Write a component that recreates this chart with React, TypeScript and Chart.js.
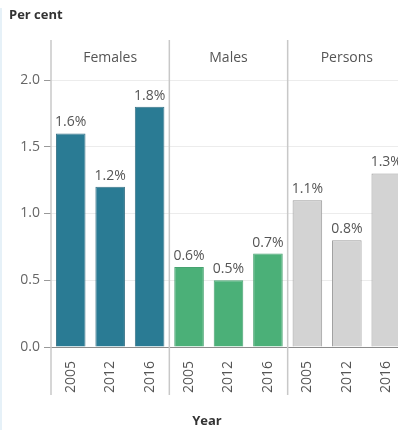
import React, { useEffect, useRef } from "react";
import { Chart, registerables } from "chart.js";

Chart.register(...registerables);

const groups = ["Females", "Males", "Persons"];
const years = ["2005", "2012", "2016"];
const females = [1.6, 1.2, 1.8];
const males = [0.6, 0.5, 0.7];
const persons = [1.1, 0.8, 1.3];
const yTicks = [0, 0.5, 1.0, 1.5, 2.0];

const groupColors = ["#2a7b94", "#4bb078", "#d3d3d3"];
const groupBorders = ["#3a7488", "#47a270", "#9a9a9a"];

const FONT = "'Open Sans', sans-serif";

export default function App() {
  const ref = useRef<HTMLCanvasElement>(null);

  useEffect(() => {
    if (!ref.current) return;
    const labels: string[] = [];
    const values: number[] = [];
    const bg: string[] = [];
    const bd: string[] = [];
    const series = [females, males, persons];
    series.forEach((s, gi) => {
      s.forEach((v, yi) => {
        labels.push(years[yi]);
        values.push(v);
        bg.push(groupColors[gi]);
        bd.push(groupBorders[gi]);
      });
    });

    const panelPlugin = {
      id: "panels",
      afterDraw(chart: any) {
        const ctx = chart.ctx;
        const area = chart.chartArea;
        const xs = chart.scales.x;
        const n = years.length;
        const bounds: number[] = [area.left];
        for (let g = 1; g < groups.length; g++) {
          const a = xs.getPixelForValue(g * n - 1);
          const b = xs.getPixelForValue(g * n);
          bounds.push((a + b) / 2);
        }
        bounds.push(area.right);
        ctx.save();
        // dividers
        ctx.strokeStyle = "#c8c8c8";
        ctx.lineWidth = 1.5;
        for (let i = 0; i < bounds.length - 1; i++) {
          ctx.beginPath();
          ctx.moveTo(bounds[i], 40);
          ctx.lineTo(bounds[i], 395);
          ctx.stroke();
        }
        // headers
        ctx.fillStyle = "#555";
        ctx.font = `14px ${FONT}`;
        ctx.textAlign = "center";
        ctx.textBaseline = "alphabetic";
        groups.forEach((g, i) => {
          ctx.fillText(g, (bounds[i] + bounds[i + 1]) / 2, 62);
        });
        // data labels
        const meta = chart.getDatasetMeta(0);
        ctx.font = `14px ${FONT}`;
        meta.data.forEach((el: any, i: number) => {
          ctx.fillText(values[i].toFixed(1) + "%", el.x, el.y - 7);
        });
        // titles
        ctx.fillStyle = "#333";
        ctx.font = `bold 13px ${FONT}`;
        ctx.textAlign = "left";
        ctx.textBaseline = "middle";
        ctx.fillText("Per cent", 9, 15);
        ctx.textAlign = "center";
        ctx.fillText("Year", 207, 421);
        ctx.restore();
      },
    };

    const chart = new Chart(ref.current, {
      type: "bar",
      data: {
        labels,
        datasets: [
          {
            data: values,
            backgroundColor: bg,
            borderColor: bd,
            borderWidth: 1,
            categoryPercentage: 1,
            barPercentage: 0.75,
          },
        ],
      },
      options: {
        animation: false,
        responsive: false,
        maintainAspectRatio: false,
        layout: { padding: { top: 80, right: 14, bottom: 0, left: 0 } },
        plugins: {
          legend: { display: false },
          tooltip: { enabled: false },
        },
        scales: {
          x: {
            type: "category",
            grid: { display: false },
            border: { display: false },
            ticks: {
              minRotation: 90,
              maxRotation: 90,
              autoSkip: false,
              padding: 6,
              color: "#555",
              font: { size: 14, family: FONT },
            },
            afterFit(scale: any) {
              scale.height = 83;
            },
          },
          y: {
            min: 0,
            max: 2.0,
            afterBuildTicks(scale: any) {
              scale.ticks = yTicks.map((v) => ({ value: v }));
            },
            grid: {
              color: (c: any) => (c.tick && c.tick.value === 0 ? "#8c8c8c" : "#ececec"),
              tickColor: "#999",
              tickLength: 7,
            },
            border: { display: false },
            ticks: {
              padding: 4,
              color: "#666",
              font: { size: 14, family: FONT },
              callback: (v: any) => Number(v).toFixed(1),
            },
            afterFit(scale: any) {
              scale.width = 51;
            },
          },
        },
      },
      plugins: [panelPlugin],
    });
    return () => chart.destroy();
  }, []);

  return (
    <div
      style={{
        position: "fixed",
        left: 0,
        top: 0,
        width: 398,
        height: 430,
        overflow: "hidden",
        background: "#fff",
      }}
    >
      <div
        style={{
          position: "absolute",
          left: 0,
          top: 8,
          width: 2,
          height: 422,
          background: "#e6f1f8",
        }}
      />
      <canvas
        ref={ref}
        width={420}
        height={430}
        style={{ position: "absolute", left: 0, top: 0, width: 420, height: 430 }}
      />
    </div>
  );
}
